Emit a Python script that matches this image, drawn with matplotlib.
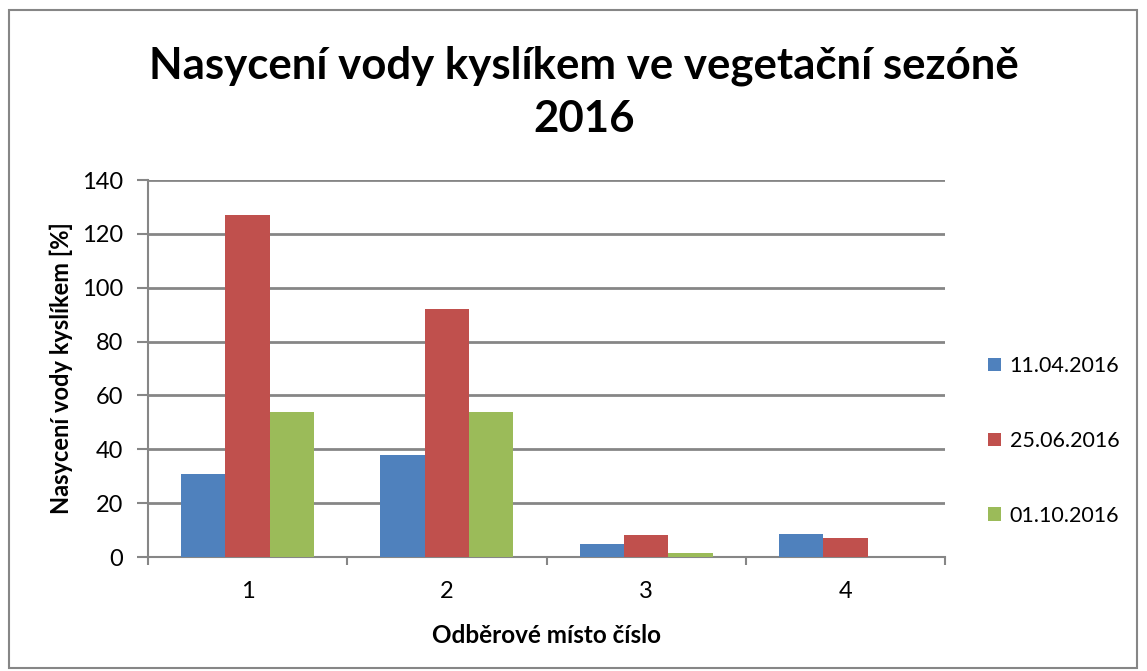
import matplotlib
matplotlib.use("Agg")
import matplotlib.pyplot as plt
import numpy as np
from matplotlib.patches import Rectangle

categories = ["1", "2", "3", "4"]
series_names = ["11.04.2016", "25.06.2016", "01.10.2016"]
s_apr = [31, 38, 5, 8.5]
s_jun = [127, 92, 8, 7]
s_oct = [54, 54, 1.5, 0]
colors = ["#4F81BD", "#C0504D", "#9BBB59"]
yticks = [0, 20, 40, 60, 80, 100, 120, 140]

plt.rcParams['font.family'] = ['Lato', 'DejaVu Sans']

W, H = 1147, 671
fig = plt.figure(figsize=(W / 100, H / 100), dpi=100)
fig.patch.set_facecolor("white")

# chart frame
fig.add_artist(Rectangle((9 / W, 1 - 668 / H), (1137 - 9) / W, (668 - 10) / H,
                         transform=fig.transFigure, fill=False,
                         edgecolor="#868686", linewidth=1.5))

ax = fig.add_axes([148 / W, 1 - 557 / H, (945 - 148) / W, (557 - 180) / H])

x = np.arange(len(categories))
n = 3
bw = 1 / (n + 1.5)
for i, (vals, name) in enumerate(zip([s_apr, s_jun, s_oct], series_names)):
    ax.bar(x + (i - 1) * bw, vals, width=bw, color=colors[i], label=name,
           zorder=3, edgecolor="none")

ax.set_xlim(-0.5, len(categories) - 0.5)
ax.set_ylim(0, 140)
ax.set_yticks(yticks)
ax.set_xticks(x)
ax.set_xticklabels(categories)
ax.set_xticks(np.arange(len(categories) + 1) - 0.5, minor=True)
ax.tick_params(axis="x", which="major", length=0, pad=17, labelsize=17)
ax.tick_params(axis="x", which="minor", length=6, width=1.5, color="#868686",
               direction="out")
ax.tick_params(axis="y", length=8, width=1.5, color="#868686", labelsize=17, pad=10)
ax.grid(axis="y", color="#868686", linewidth=2, zorder=0)
for side in ["top", "right"]:
    ax.spines[side].set_visible(False)
for side in ["left", "bottom"]:
    ax.spines[side].set_color("#868686")
    ax.spines[side].set_linewidth(1.5)

ax.set_xlabel("Odběrové místo číslo", fontsize=17.5, fontweight="bold", labelpad=16)
ax.set_ylabel("Nasycení vody kyslíkem [%]", fontsize=17, fontweight="bold")
ax.yaxis.set_label_coords((73 - 148) / (945 - 148), 0.5)

fig.text(0.5 * (148 + 1020) / W, 1 - 92 / H,
         "Nasycení vody kyslíkem ve vegetační sezóně\n2016",
         ha="center", va="center", fontsize=31.5, fontweight="bold",
         linespacing=1.4)

leg = ax.legend(loc="center left", bbox_to_anchor=(973 / W, 1 - 441 / H),
                bbox_transform=fig.transFigure, frameon=False, fontsize=15.5,
                handlelength=0.6, handleheight=0.6, handletextpad=0.4,
                labelspacing=2.55, borderpad=0.2)

fig.savefig("out.png", dpi=100)
